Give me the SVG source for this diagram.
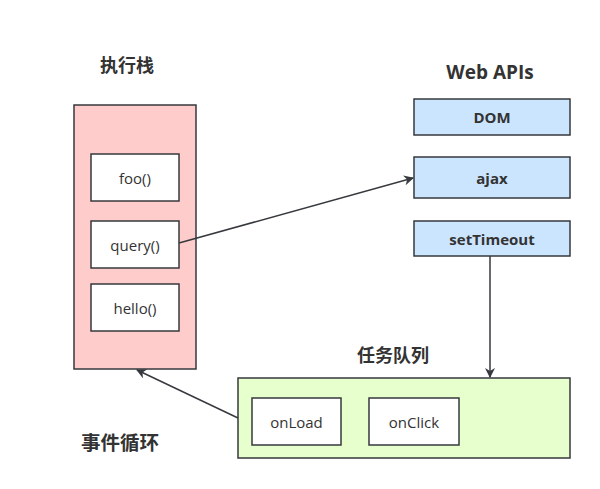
<svg xmlns="http://www.w3.org/2000/svg" width="600" height="489" viewBox="0 0 600 489">
<style>
.t{font-family:"Open Sans","Noto Sans CJK SC",sans-serif;text-anchor:middle;dominant-baseline:central;fill:#333}
.h{font-size:18px;font-weight:bold}
.n{font-size:15px}
.b{font-size:15px;font-weight:bold}
.box{stroke:#36393d;stroke-width:1.5}
.c{stroke:#36393d;stroke-width:1.5;fill:none}
</style>
<defs>
<marker id="ah" viewBox="0 0 10 10" refX="9" refY="5" markerWidth="10" markerHeight="10" markerUnits="userSpaceOnUse" orient="auto">
<path d="M0,0 L10,5 L0,10 L3,5 z" fill="#36393d"/>
</marker>
</defs>
<rect width="600" height="489" fill="#fff"/>
<g id="stack">
<text class="t h" x="127" y="65">执行栈</text>
<rect class="box" x="74" y="105" width="122" height="264" fill="#ffcccc"/>
</g>
<g id="foo"><rect class="box" x="91" y="154" width="88" height="47" fill="#fff"/><text class="t n" x="135" y="177.5">foo()</text></g>
<g id="query"><rect class="box" x="91" y="221" width="88" height="47" fill="#fff"/><text class="t n" x="135" y="244.5">query()</text></g>
<g id="hello"><rect class="box" x="91" y="284" width="88" height="47" fill="#fff"/><text class="t n" x="135" y="307.5">hello()</text></g>
<g id="webapis"><text class="t h" x="490" y="72" style="font-size:19px">Web APIs</text></g>
<g id="dom"><rect class="box" x="414" y="99" width="156" height="36" fill="#cce5ff"/><text class="t b" x="492" y="117">DOM</text></g>
<g id="ajax"><rect class="box" x="414" y="157" width="156" height="41" fill="#cce5ff"/><text class="t b" x="492" y="177.5">ajax</text></g>
<g id="settimeout"><rect class="box" x="414" y="221" width="156" height="35" fill="#cce5ff"/><text class="t b" x="492" y="238.5">setTimeout</text></g>
<g id="queue">
<text class="t h" x="393" y="355">任务队列</text>
<rect class="box" x="238" y="378" width="332" height="80" fill="#e6ffcc"/>
</g>
<g id="onload"><rect class="box" x="252" y="398" width="89" height="47" fill="#fff"/><text class="t n" x="296.5" y="421.5">onLoad</text></g>
<g id="onclick"><rect class="box" x="369" y="398" width="90" height="47" fill="#fff"/><text class="t n" x="414" y="421.5">onClick</text></g>
<g id="eventloop"><text class="t h" x="120" y="442" style="font-size:19.5px">事件循环</text></g>
<g id="connectors">
<path class="c" d="M179,243 L413,178" marker-end="url(#ah)"/>
<path class="c" d="M490,256 L490,377" marker-end="url(#ah)"/>
<path class="c" d="M238,418 L137,370" marker-end="url(#ah)"/>
</g>
</svg>
